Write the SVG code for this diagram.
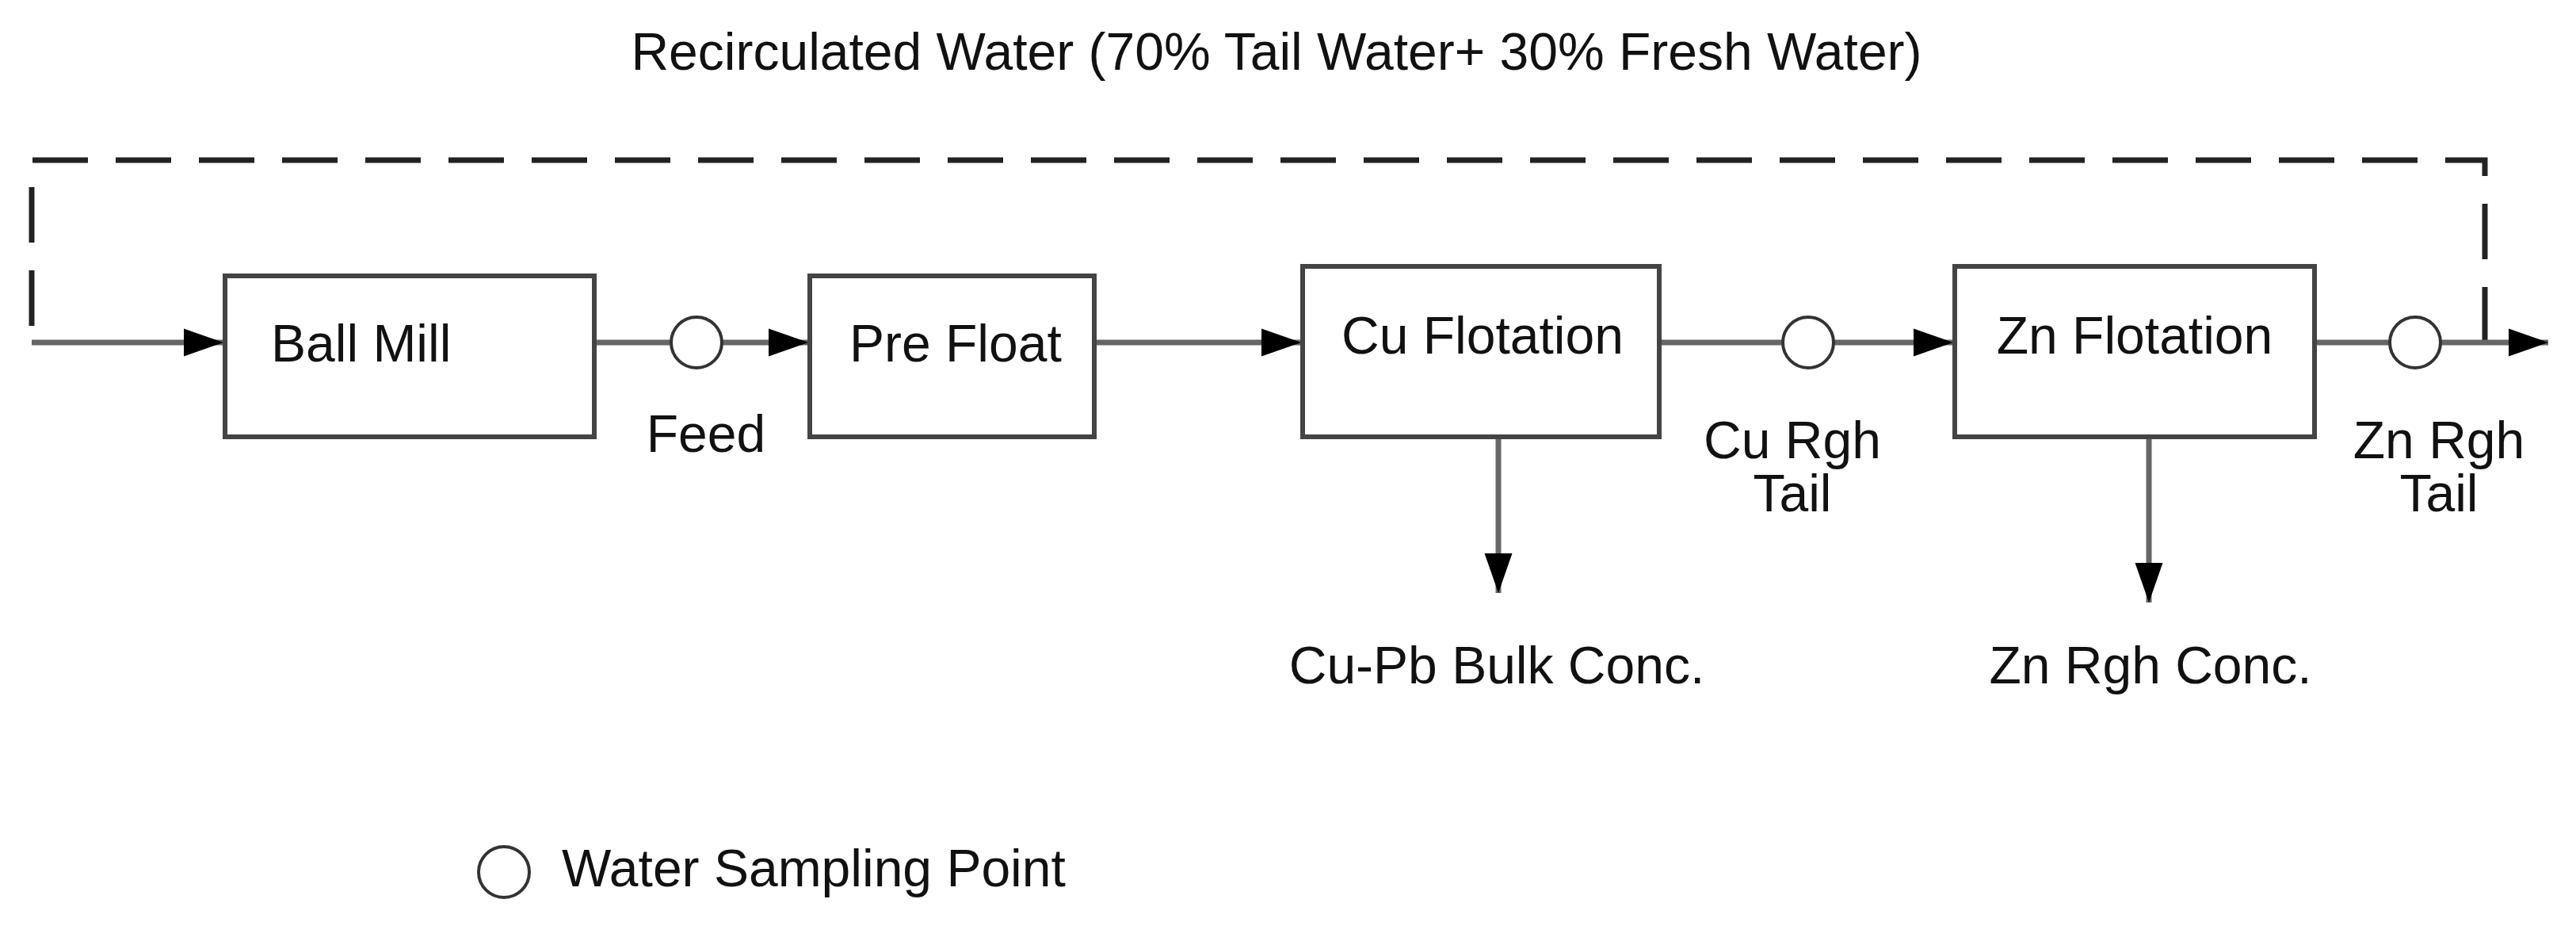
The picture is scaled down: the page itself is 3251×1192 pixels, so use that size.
<svg xmlns="http://www.w3.org/2000/svg" width="3251" height="1192" viewBox="0 0 3251 1192">
<style>
text{font-family:"Liberation Sans",Arial,sans-serif;font-size:66px;fill:#111}
.box{fill:#fff;stroke:#444;stroke-width:6}
.ln{fill:none;stroke:#666;stroke-width:7}
.dash{fill:none;stroke:#222;stroke-width:7;stroke-dasharray:70,35}
.c{fill:#fff;stroke:#333;stroke-width:4}
</style>
<defs><marker id="a" viewBox="0 0 10 10" refX="10" refY="5" markerWidth="9" markerHeight="9" markerUnits="userSpaceOnUse" orient="auto"><path d="M0,0L10,5L0,10z" fill="#000"/></marker>
<marker id="ah" viewBox="0 0 10 10" refX="10" refY="5" markerWidth="50" markerHeight="50" markerUnits="userSpaceOnUse" orient="auto"><path d="M0,1.5L10,5L0,8.5z" fill="#000"/></marker></defs>
<text x="1611" y="88" text-anchor="middle">Recirculated Water (70% Tail Water+ 30% Fresh Water)</text>
<g id="connectors">
<path class="dash" d="M3136,432V202H40V425"/>
<path class="ln" d="M40,432H282" marker-end="url(#ah)"/>
<path class="ln" d="M750,432H1020" marker-end="url(#ah)"/>
<path class="ln" d="M1381,432H1642" marker-end="url(#ah)"/>
<path class="ln" d="M2094,432H2465" marker-end="url(#ah)"/>
<path class="ln" d="M2921,432H3216" marker-end="url(#ah)"/>
<path class="ln" d="M1891,551V748" marker-end="url(#ah)"/>
<path class="ln" d="M2712,551V760" marker-end="url(#ah)"/>
</g>
<g id="ballmill"><rect class="box" x="284" y="348" width="466" height="203"/><text x="342" y="456">Ball Mill</text></g>
<g id="prefloat"><rect class="box" x="1022" y="348" width="359" height="203"/><text x="1072" y="456">Pre Float</text></g>
<g id="cuflot"><rect class="box" x="1644" y="336" width="450" height="215"/><text x="1871" y="446" text-anchor="middle">Cu Flotation</text></g>
<g id="znflot"><rect class="box" x="2467" y="336" width="454" height="215"/><text x="2694" y="446" text-anchor="middle">Zn Flotation</text></g>
<g id="feed"><circle class="c" cx="879" cy="432" r="32"/><text x="891" y="570" text-anchor="middle">Feed</text></g>
<g id="curgh"><circle class="c" cx="2282" cy="432" r="32"/><text x="2262" y="578" text-anchor="middle">Cu Rgh</text><text x="2262" y="645" text-anchor="middle">Tail</text></g>
<g id="znrgh"><circle class="c" cx="3048" cy="432" r="32"/><text x="3078" y="578" text-anchor="middle">Zn Rgh</text><text x="3078" y="645" text-anchor="middle">Tail</text></g>
<g id="cupb"><text x="1889" y="862" text-anchor="middle">Cu-Pb Bulk Conc.</text></g>
<g id="znconc"><text x="2714" y="862" text-anchor="middle">Zn Rgh Conc.</text></g>
<g id="legend"><circle class="c" cx="636" cy="1100" r="32"/><text x="709" y="1118">Water Sampling Point</text></g>
</svg>
